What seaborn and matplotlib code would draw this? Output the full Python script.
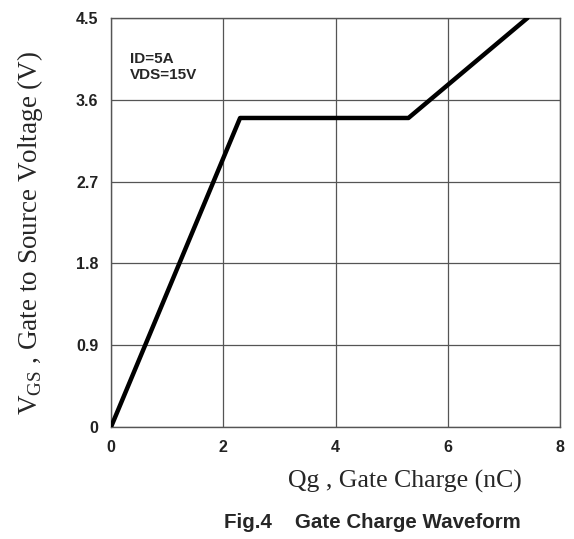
import numpy as np
import matplotlib
matplotlib.use("Agg")
import matplotlib.pyplot as plt
import pandas as pd
import seaborn as sns

# gate charge curve
qg = [0.0, 2.3, 5.3, 7.42]
vgs = [0.0, 3.4, 3.4, 4.5]
x_ticks = [0, 2, 4, 6, 8]
y_ticks = [0, 0.9, 1.8, 2.7, 3.6, 4.5]
y_tick_labels = ["0", "0.9", "1.8", "2.7", "3.6", "4.5"]
note_lines = ["ID=5A", "VDS=15V"]

df = pd.DataFrame({"Qg": qg, "VGS": vgs})

sns.set_style("white")
plt.rcParams["font.family"] = ["Liberation Sans", "DejaVu Sans"]

fig = plt.figure(figsize=(5.74, 5.39), dpi=100)
ax = fig.add_axes([111 / 574, 1 - 427 / 539, (560 - 111) / 574, (427 - 18) / 539])

sns.lineplot(data=df, x="Qg", y="VGS", ax=ax, color="black", linewidth=3.2, zorder=3)

ax.set_xlim(0, 8)
ax.set_ylim(0, 4.5)
ax.set_xticks(x_ticks)
ax.set_yticks(y_ticks)
ax.set_yticklabels(y_tick_labels)
ax.tick_params(length=0, labelsize=11.5)
ax.tick_params(axis="x", pad=9)
ax.tick_params(axis="y", pad=9)
for lab in ax.get_xticklabels() + ax.get_yticklabels():
    lab.set_fontweight("bold")
    lab.set_color("#222222")
ax.grid(True, color="#555555", linewidth=0.9)
for sp in ax.spines.values():
    sp.set_color("#555555")
    sp.set_linewidth(1.0)

ax.set_xlabel("")
ax.set_ylabel("")
ax.text(0.042, 0.918, "\n".join(note_lines), transform=ax.transAxes, ha="left", va="top",
        fontsize=11, fontweight="bold", linespacing=1.25)

fig.text(405 / 574, 1 - 481 / 539, "Qg , Gate Charge (nC)", ha="center", va="center",
         fontsize=18.5, family="Liberation Serif")
fig.text(30 / 574, 1 - 233 / 539, r"V$_{\mathregular{GS}}$ , Gate to Source Voltage (V)",
         ha="center", va="center", rotation=90, fontsize=19.5, family="Liberation Serif")
fig.text(372 / 574, 1 - 522 / 539, "Fig.4    Gate Charge Waveform", ha="center",
         va="center", fontsize=14.8, fontweight="bold")

fig.savefig("out.png", dpi=100)
